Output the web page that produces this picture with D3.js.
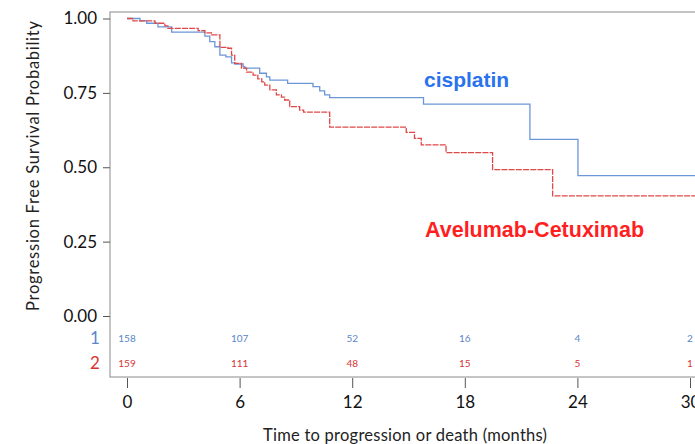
<!DOCTYPE html>
<html>
<head>
<meta charset="utf-8">
<script src="https://cdn.jsdelivr.net/npm/d3@7"></script>
<style>
  html, body { margin: 0; padding: 0; background: #fff; }
  svg { display: block; }
</style>
</head>
<body>
<svg id="chart" width="695" height="444"></svg>
<script>
// Kaplan-Meier progression-free survival, two arms (step points: time in months, survival after the drop)
const cisTimes = [0, 0.69, 1.05, 1.65, 2.38, 4.15, 4.41, 4.68, 4.95, 5.27, 5.57, 5.74, 6.19, 6.28, 7.07, 7.43, 7.61, 8.56, 9.91, 10.27, 10.53, 10.8, 15.8, 21.47, 24.03, 31];
const cisSurv  = [1.0, 0.992, 0.984, 0.972, 0.954, 0.941, 0.922, 0.905, 0.877, 0.871, 0.851, 0.847, 0.838, 0.833, 0.816, 0.804, 0.793, 0.782, 0.771, 0.757, 0.743, 0.734, 0.712, 0.594, 0.472, 0.472];

const aveTimes = [0, 0.32, 1.49, 2.02, 2.18, 3.79, 4.15, 4.5, 4.95, 5.37, 5.57, 5.74, 6.1, 6.37, 6.72, 6.97, 7.18, 7.34, 7.61, 7.96, 8.23, 8.4, 8.67, 9.2, 9.41, 10.8, 14.88, 15.32, 15.68, 17.0, 19.48, 22.68, 31];
const aveSurv  = [1.0, 0.992, 0.984, 0.975, 0.967, 0.959, 0.952, 0.945, 0.903, 0.9, 0.877, 0.849, 0.833, 0.82, 0.81, 0.797, 0.787, 0.776, 0.76, 0.743, 0.736, 0.726, 0.704, 0.692, 0.685, 0.635, 0.617, 0.597, 0.575, 0.549, 0.492, 0.404, 0.404];

// Number at risk table
const riskTimes = [0, 6, 12, 18, 24, 30];
const cisAtRisk = [158, 107, 52, 16, 4, 2];
const aveAtRisk = [159, 111, 48, 15, 5, 1];

const yTicks = [0, 0.25, 0.5, 0.75, 1];
const xTicks = [0, 6, 12, 18, 24, 30];

const BLUE = "#6b96d8";
const RED = "#e04848";

const svg = d3.select("#chart");
const x = d3.scaleLinear().domain([0, 30]).range([127, 690]);
const y = d3.scaleLinear().domain([0, 1]).range([316, 18.5]);

const boxLeft = 110, boxTop = 12, boxBottom = 377, boxRight = 705;
const axisFont = "Lato, 'Open Sans', sans-serif";

// frame
svg.append("rect")
  .attr("x", boxLeft).attr("y", boxTop)
  .attr("width", boxRight - boxLeft).attr("height", boxBottom - boxTop)
  .attr("fill", "none").attr("stroke", "#8a8a8a").attr("stroke-width", 1);

// y axis
const yAxis = svg.append("g")
  .attr("transform", `translate(${boxLeft},0)`)
  .call(d3.axisLeft(y).tickValues(yTicks).tickFormat(d3.format(".2f")).tickSize(7).tickPadding(6));
yAxis.select(".domain").remove();
yAxis.selectAll(".tick line").attr("stroke", "#555");
yAxis.selectAll(".tick text")
  .attr("font-family", axisFont).attr("font-size", 17).attr("fill", "#111");

// x axis
const xAxis = svg.append("g")
  .attr("transform", `translate(0,${boxBottom + 1})`)
  .call(d3.axisBottom(x).tickValues(xTicks).tickSize(10).tickPadding(8));
xAxis.select(".domain").remove();
xAxis.selectAll(".tick line").attr("stroke", "#555");
xAxis.selectAll(".tick text")
  .attr("font-family", axisFont).attr("font-size", 17).attr("fill", "#111");

// axis titles
svg.append("text")
  .attr("transform", `translate(39,166) rotate(-90)`)
  .attr("text-anchor", "middle")
  .attr("font-family", axisFont).attr("font-size", 16.5).attr("fill", "#222")
  .attr("textLength", 290).attr("lengthAdjust", "spacing")
  .text("Progression Free Survival Probability");

svg.append("text")
  .attr("x", 405).attr("y", 441)
  .attr("text-anchor", "middle")
  .attr("font-family", axisFont).attr("font-size", 16.5).attr("fill", "#222")
  .attr("textLength", 284).attr("lengthAdjust", "spacing")
  .text("Time to progression or death (months)");

// survival curves
const line = d3.line()
  .x(d => x(d[0])).y(d => y(d[1]))
  .curve(d3.curveStepAfter);

const plot = svg.append("g");
plot.append("path")
  .datum(d3.zip(cisTimes, cisSurv))
  .attr("d", line)
  .attr("fill", "none").attr("stroke", BLUE).attr("stroke-width", 1.3);

plot.append("path")
  .datum(d3.zip(aveTimes, aveSurv))
  .attr("d", line)
  .attr("fill", "none").attr("stroke", RED).attr("stroke-width", 1.3)
  .attr("stroke-dasharray", "6,1.2");

// arm labels
svg.append("text")
  .attr("x", 424).attr("y", 87)
  .attr("font-family", "'Liberation Sans', Arial, sans-serif").attr("font-weight", "bold")
  .attr("font-size", 21).attr("fill", "#2a72ee")
  .text("cisplatin");

svg.append("text")
  .attr("x", 425).attr("y", 237)
  .attr("font-family", "'Liberation Sans', Arial, sans-serif").attr("font-weight", "bold")
  .attr("font-size", 21.5).attr("fill", "#ff1f1f")
  .text("Avelumab-Cetuximab");

// number at risk
const riskRows = [
  { label: "1", values: cisAtRisk, color: "#5a86cc", yPos: 338 },
  { label: "2", values: aveAtRisk, color: "#d83434", yPos: 363 }
];
riskRows.forEach(row => {
  svg.append("text")
    .attr("x", 95).attr("y", row.yPos).attr("dy", "0.35em")
    .attr("text-anchor", "middle")
    .attr("font-family", axisFont).attr("font-size", 17).attr("fill", row.color)
    .text(row.label);
  svg.append("g").selectAll("text")
    .data(riskTimes)
    .join("text")
    .attr("x", d => x(d)).attr("y", row.yPos).attr("dy", "0.35em")
    .attr("text-anchor", "middle")
    .attr("font-family", "'Liberation Sans Narrow', " + axisFont).attr("font-size", 10)
    .attr("fill", row.color)
    .text((d, i) => row.values[i]);
});
</script>
</body>
</html>
